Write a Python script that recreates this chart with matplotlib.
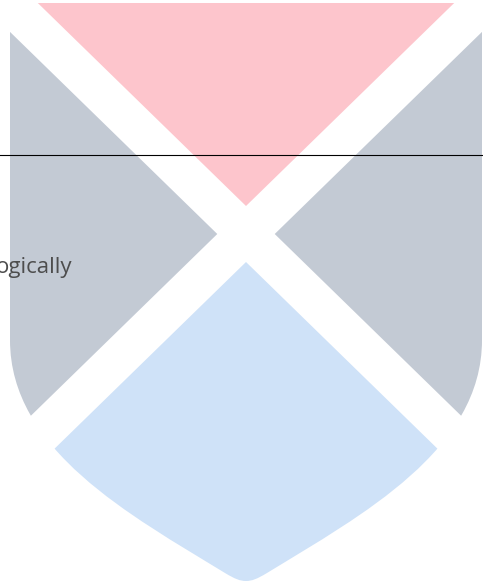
import numpy as np
import matplotlib
matplotlib.use("Agg")
import matplotlib.pyplot as plt
from matplotlib.path import Path
from matplotlib.patches import PathPatch, Polygon

# ---- diagram content ----
quadrants = ["top", "left", "right", "bottom"]
quadrant_colors = ["#FDC5CC", "#C3CAD4", "#C3CAD4", "#CFE2F8"]
label_text = "ogically"

W, H = 483, 582
fig = plt.figure(figsize=(W / 100, H / 100), dpi=100)
ax = fig.add_axes([0, 0, 1, 1])
ax.set_xlim(0, W)
ax.set_ylim(H, 0)
ax.axis("off")

# shield geometry (pixel units)
cx, cy = 246, 234
left, right, top = 10, 482, 3
side_end = 340

def mirror(p):
    return (2 * cx - p[0], p[1])

half = [(left, side_end), (left, 450), (130, 515), (225, 573),
        (235, 579), (240, 581), (cx, 581)]
verts = [(left, top), half[0], half[1], half[2], half[3], half[4], half[5], half[6],
         mirror(half[5]), mirror(half[4]), mirror(half[3]),
         mirror(half[2]), mirror(half[1]), mirror(half[0]),
         (right, top), (left, top)]
codes = [Path.MOVETO, Path.LINETO] + [Path.CURVE4] * 6 + [Path.CURVE4] * 6 + \
        [Path.LINETO, Path.CLOSEPOLY]
shield = Path(verts, codes)

clip_patch = PathPatch(shield, facecolor="none", edgecolor="none")
ax.add_patch(clip_patch)

m = 0.975  # diagonal slope
L = 1000
corners = {
    "top": [(cx, cy), (cx - L, cy - L * m), (cx + L, cy - L * m)],
    "bottom": [(cx, cy), (cx - L, cy + L * m), (cx + L, cy + L * m)],
    "left": [(cx, cy), (cx - L, cy - L * m), (cx - L, cy + L * m)],
    "right": [(cx, cy), (cx + L, cy - L * m), (cx + L, cy + L * m)],
}
for q, col in zip(quadrants, quadrant_colors):
    poly = Polygon(corners[q], closed=True, facecolor=col, edgecolor="none")
    ax.add_patch(poly)
    poly.set_clip_path(clip_patch)

# white X stripes
voff = 28
for s in (1, -1):
    d = np.array([1.0, s * m]) / np.hypot(1, m)
    n = np.array([-d[1], d[0]])
    w = voff / np.hypot(1, m)
    c = np.array([cx, cy])
    pts = [c - L * d - w * n, c + L * d - w * n, c + L * d + w * n, c - L * d + w * n]
    ax.add_patch(Polygon(pts, closed=True, facecolor="white", edgecolor="none"))

ax.axhline(155, color="black", linewidth=0.8)
ax.text(72, 267, label_text, ha="right", va="center", fontsize=16,
        color="#4d4d4d", family="Open Sans")

fig.savefig("out.png", dpi=100)
